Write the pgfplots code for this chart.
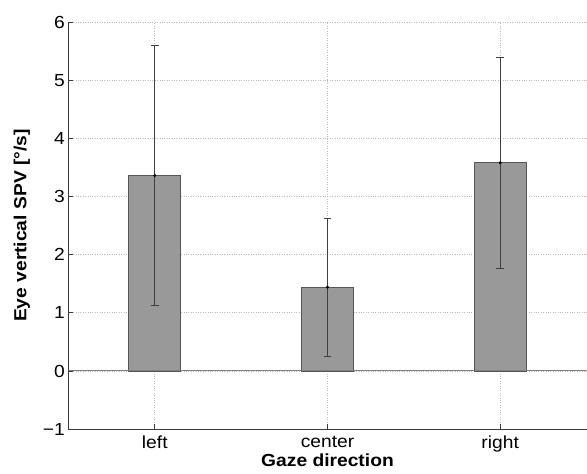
\documentclass[border=0pt]{standalone}
\usepackage{fontspec}
\setmainfont[FakeStretch=1.1]{Liberation Sans}
\usepackage{pgfplots}
\pgfplotsset{compat=1.18}
\definecolor{barfill}{HTML}{999999}
\definecolor{baredge}{HTML}{555555}
\definecolor{axcol}{HTML}{3A3A3A}
\begin{document}
\begin{tikzpicture}
\begin{axis}[
  scale only axis, width=518.5pt, height=407.5pt,
  xmin=-0.5, xmax=2.5, ymin=-1, ymax=6,
  axis x line*=bottom, axis y line*=left,
  axis line style={axcol, line width=0.9pt},
  xtick={0,1,2}, xticklabels={left,center,right},
  ytick={-1,0,1,2,3,4,5,6}, yticklabels={−1,0,1,2,3,4,5,6},
  tick align=inside, major tick length=5pt,
  tick style={axcol, line width=0.7pt},
  grid=major, grid style={dotted, gray!55, line width=0.7pt},
  ticklabel style={font=\fontsize{17.5}{20}\selectfont},
  xticklabel style={yshift=-3pt},
  xlabel={\bfseries Gaze direction},
  ylabel={\bfseries Eye vertical SPV [°/s]},
  label style={font=\fontsize{17.5}{20}\selectfont},
  xlabel style={yshift=5pt},
  ylabel style={yshift=6pt},
]
\addplot[ybar, bar width=0.3, fill=barfill, draw=baredge, line width=0.8pt,
  error bars/.cd, y dir=both, y explicit,
  error bar style={black!75, line width=0.7pt},
  error mark options={black!75, line width=0.7pt, mark size=4pt, rotate=90}]
  coordinates {(0,3.36) +- (0,2.24) (1,1.44) +- (0,1.18) (2,3.58) +- (0,1.81)};
\addplot[only marks, mark=*, mark size=1.3pt, black] coordinates {(0,3.36) (1,1.44) (2,3.58)};
\draw[gray, line width=1pt] (axis cs:-0.5,0) -- (axis cs:2.5,0);
\end{axis}
\path ([xshift=-68.5pt,yshift=-44.5pt]current axis.south west) rectangle ([yshift=22pt]current axis.north east);
\end{tikzpicture}
\end{document}
